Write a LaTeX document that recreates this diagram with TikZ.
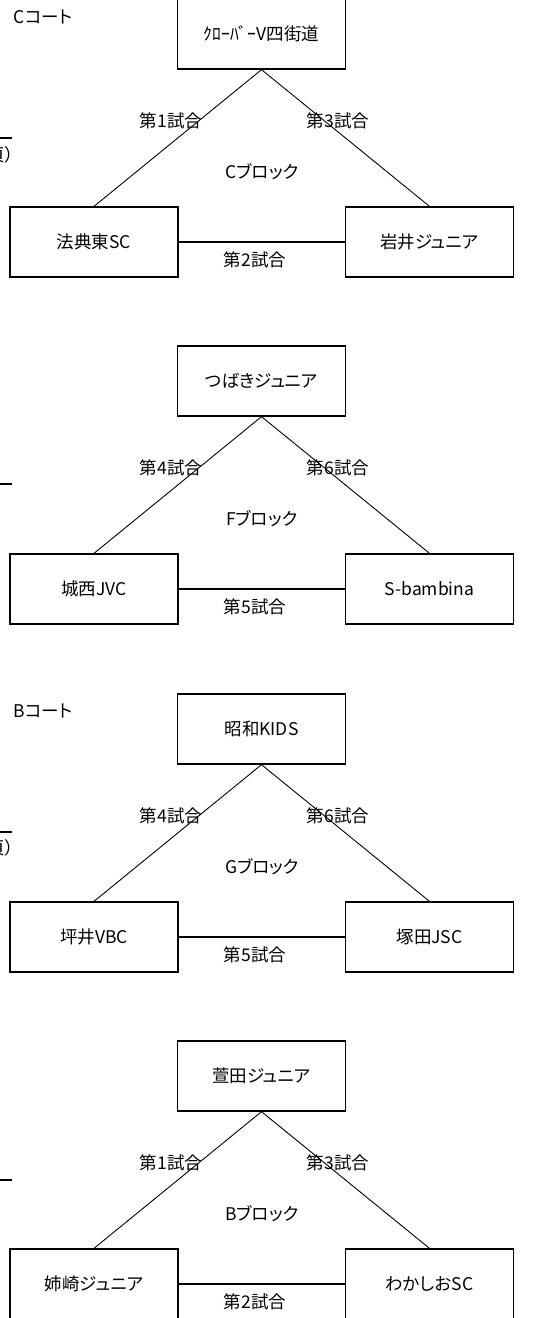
\documentclass[tikz,border=0pt]{standalone}
\usepackage{fontspec}
\setmainfont{Noto Sans CJK JP}[RawFeature=+palt]
\usetikzlibrary{positioning}

\begin{document}
\begin{tikzpicture}[x=1pt, y=-1pt,
    team/.style={draw, line width=1.3pt, minimum width=168pt, minimum height=70pt,
      inner sep=0pt, font=\fontsize{17.5}{20}\selectfont},
    lbl/.style={inner sep=0pt, font=\fontsize{17.5}{20}\selectfont},
    game/.style={line width=0.9pt},
    pair/.style={line width=1.3pt},
    cut/.style={line width=2pt}]
    \useasboundingbox (0,0) rectangle (541,1318);

    % C block
    \node[lbl] (c-court) at (43,17) {Cコート};
    \node[team] (c-top) at (261.5,34) {ｸﾛｰﾊﾞｰV四街道};
    \node[team] (c-left) at (94,242) {法典東SC};
    \node[team] (c-right) at (429.5,242) {岩井ジュニア};
    \draw[game] (c-top.south) -- (c-left.north);
    \draw[game] (c-top.south) -- (c-right.north);
    \draw[pair] (c-left) -- (c-right);
    \node[lbl] (c-m1) at (171,121) {第1試合};
    \node[lbl] (c-m3) at (338,121) {第3試合};
    \node[lbl] (c-name) at (262,172) {Cブロック};
    \node[lbl] (c-m2) at (255,260) {第2試合};
    \coordinate (c-cut0) at (0,138);
    \coordinate (c-cut1) at (12,138);
    \draw[cut] (c-cut0) -- (c-cut1);
    \node[lbl, anchor=east] (c-page) at (14,155) {頁）};

    % F block
    \begin{scope}[yshift=-347pt]
        \node[team] (f-top) at (261.5,34) {つばきジュニア};
        \node[team] (f-left) at (94,242) {城西JVC};
        \node[team] (f-right) at (429.5,242) {S-bambina};
        \draw[game] (f-top.south) -- (f-left.north);
        \draw[game] (f-top.south) -- (f-right.north);
        \draw[pair] (f-left) -- (f-right);
        \node[lbl] (f-m4) at (171,121) {第4試合};
        \node[lbl] (f-m6) at (338,121) {第6試合};
        \node[lbl] (f-name) at (262,172) {Fブロック};
        \node[lbl] (f-m5) at (255,260) {第5試合};
        \coordinate (f-cut0) at (0,137);
        \coordinate (f-cut1) at (12,137);
        \draw[cut] (f-cut0) -- (f-cut1);
    \end{scope}

    % G block
    \begin{scope}[yshift=-695pt]
        \node[lbl] (g-court) at (43,16) {Bコート};
        \node[team] (g-top) at (261.5,34) {昭和KIDS};
        \node[team] (g-left) at (94,242) {坪井VBC};
        \node[team] (g-right) at (429.5,242) {塚田JSC};
        \draw[game] (g-top.south) -- (g-left.north);
        \draw[game] (g-top.south) -- (g-right.north);
        \draw[pair] (g-left) -- (g-right);
        \node[lbl] (g-m4) at (171,121) {第4試合};
        \node[lbl] (g-m6) at (338,121) {第6試合};
        \node[lbl] (g-name) at (262,172) {Gブロック};
        \node[lbl] (g-m5) at (255,260) {第5試合};
        \coordinate (g-cut0) at (0,137);
        \coordinate (g-cut1) at (12,137);
        \draw[cut] (g-cut0) -- (g-cut1);
        \node[lbl, anchor=east] (g-page) at (14,153) {頁）};
    \end{scope}

    % B block
    \begin{scope}[yshift=-1042pt]
        \node[team] (b-top) at (261.5,34) {萱田ジュニア};
        \node[team] (b-left) at (94,242) {姉崎ジュニア};
        \node[team] (b-right) at (429.5,242) {わかしおSC};
        \draw[game] (b-top.south) -- (b-left.north);
        \draw[game] (b-top.south) -- (b-right.north);
        \draw[pair] (b-left) -- (b-right);
        \node[lbl] (b-m1) at (171,121) {第1試合};
        \node[lbl] (b-m3) at (338,121) {第3試合};
        \node[lbl] (b-name) at (262,172) {Bブロック};
        \node[lbl] (b-m2) at (255,260) {第2試合};
        \coordinate (b-cut0) at (0,138);
        \coordinate (b-cut1) at (12,138);
        \draw[cut] (b-cut0) -- (b-cut1);
    \end{scope}
\end{tikzpicture}
\end{document}
